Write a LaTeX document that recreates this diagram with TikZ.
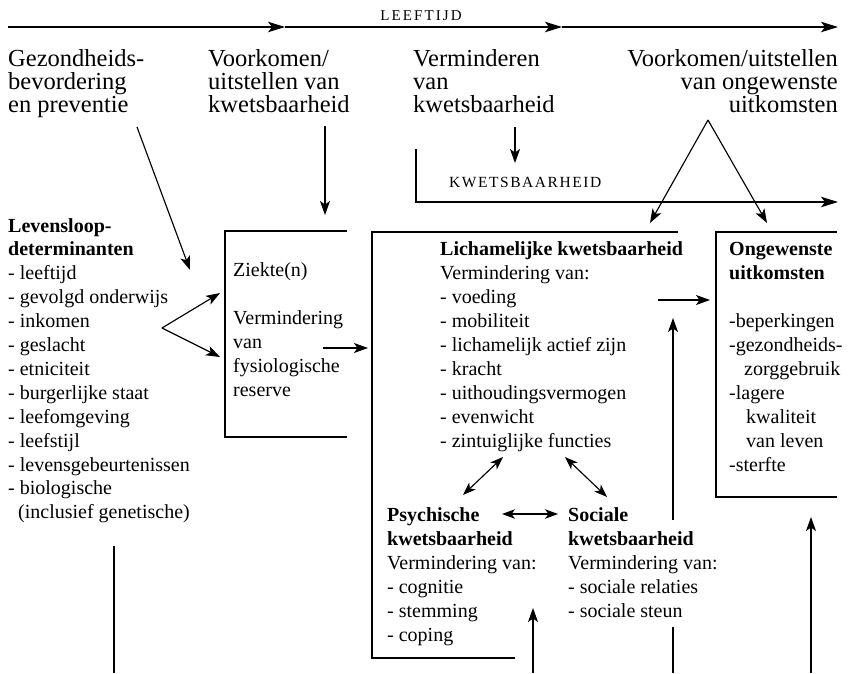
\documentclass[tikz,border=0pt]{standalone}
\usepackage{fontspec}
\setmainfont{Liberation Serif}
\newfontfamily\capsA[LetterSpace=10]{Liberation Serif}
\newfontfamily\capsB[LetterSpace=14]{Liberation Serif}
\usetikzlibrary{arrows.meta}
\newcommand\mlines[1]{\vtop{\lineskiplimit=-100pt\lineskip=0pt\halign{##\hfil\cr#1\crcr}}}
\newcommand\rlines[1]{\vtop{\lineskiplimit=-100pt\lineskip=0pt\halign{\hfil##\cr#1\crcr}}}
\tikzset{
  txt/.style={inner sep=0pt, anchor=base west, font=\fontsize{20}{24}\selectfont},
  toptxt/.style={inner sep=0pt, anchor=base west, font=\fontsize{24.5}{23}\selectfont},
  capstxt/.style={inner sep=0pt, anchor=base west},
  ln/.style={line width=1.15pt},
  arr/.style={line width=1.15pt, -{Stealth[length=14pt,width=10pt,inset=3.5pt]}},
  darr/.style={line width=1.15pt, {Stealth[length=13pt,width=9.5pt,inset=3.5pt]}-{Stealth[length=13pt,width=9.5pt,inset=3.5pt]}},
  bigarr/.style={line width=1.15pt, -{Stealth[length=17pt,width=10.5pt,inset=4pt]}},
}
\begin{document}
\begin{tikzpicture}[x=1pt,y=-1pt]
\useasboundingbox (0,0) rectangle (849,673);

% ---- age axis
\node[capstxt, anchor=base, font=\capsB\fontsize{15}{18}\selectfont] (leeftijd) at (421,20) {LEEFTIJD};
\coordinate (t0) at (8,27);
\coordinate (t1) at (285,27);
\coordinate (t2) at (562,27);
\coordinate (t3) at (838,27);
\draw[bigarr] (t0) -- (t1);
\draw[bigarr] (t1) -- (t2);
\draw[bigarr] (t2) -- (t3);

% ---- top texts
\node[toptxt] (gez) at (8,66) {\mlines{Gezondheids-\cr bevordering\cr en preventie}};
\node[toptxt] (voork) at (208,66) {\mlines{Voorkomen/\cr uitstellen van\cr kwetsbaarheid}};
\node[toptxt] (vermin) at (413,66) {\mlines{Verminderen\cr van\cr kwetsbaarheid}};
\node[toptxt, anchor=base east] (vuo) at (838,66) {\rlines{Voorkomen/uitstellen\cr van ongewenste\cr uitkomsten}};

% ---- kwetsbaarheid axis
\node[capstxt, font=\capsA\fontsize{15.5}{18}\selectfont] (kwets) at (449,187) {KWETSBAARHEID};
\coordinate (k0) at (416,149);
\coordinate (k1) at (416,202);
\coordinate (k2) at (838,202);
\draw[bigarr] (k0) -- (k1) -- (k2);

% ---- boxes (open at the right)
\coordinate (zA) at (347,231); \coordinate (zB) at (225,231);
\coordinate (zC) at (225,437); \coordinate (zD) at (347,437);
\draw[ln] (zA) -- (zB) -- (zC) -- (zD);
\coordinate (lA) at (678,232); \coordinate (lB) at (372,232);
\coordinate (lC) at (372,658); \coordinate (lD) at (515,658);
\draw[ln] (lA) -- (lB) -- (lC) -- (lD);
\coordinate (oA) at (837,232); \coordinate (oB) at (716,232);
\coordinate (oC) at (716,497); \coordinate (oD) at (837,497);
\draw[ln] (oA) -- (oB) -- (oC) -- (oD);

% ---- box texts
\node[txt, font=\fontsize{20}{23.9}\selectfont] (lev) at (8,232) {\mlines{\textbf{Levensloop-}\cr\textbf{determinanten}\cr
- leeftijd\cr - gevolgd onderwijs\cr - inkomen\cr - geslacht\cr - etniciteit\cr - burgerlijke staat\cr
- leefomgeving\cr - leefstijl\cr - levensgebeurtenissen\cr - biologische\cr \hspace*{10pt}(inclusief genetische)}};
\node[txt] (ziek) at (233,276) {\mlines{Ziekte(n)\cr\cr Vermindering\cr van\cr fysiologische\cr reserve}};
\node[txt] (lich) at (440,255) {\mlines{\textbf{Lichamelijke kwetsbaarheid}\cr Vermindering van:\cr - voeding\cr - mobiliteit\cr
- lichamelijk actief zijn\cr - kracht\cr - uithoudingsvermogen\cr - evenwicht\cr - zintuiglijke functies}};
\node[txt] (psych) at (387,521) {\mlines{\textbf{Psychische}\cr\textbf{kwetsbaarheid}\cr Vermindering van:\cr - cognitie\cr - stemming\cr - coping}};
\node[txt] (soc) at (568,521) {\mlines{\textbf{Sociale}\cr\textbf{kwetsbaarheid}\cr Vermindering van:\cr - sociale relaties\cr - sociale steun}};
\node[txt] (ong) at (729,255) {\mlines{\textbf{Ongewenste}\cr\textbf{uitkomsten}\cr\cr -beperkingen\cr -gezondheids-\cr
\hspace*{15pt}zorggebruik\cr -lagere\cr \hspace*{17pt}kwaliteit\cr \hspace*{17pt}van leven\cr -sterfte}};

% ---- arrows from the top texts
\coordinate (g0) at (137,127); \coordinate (g1) at (190,270);
\draw[arr] (g0) -- (g1);
\coordinate (v0) at (325,126); \coordinate (v1) at (325,215);
\draw[arr] (v0) -- (v1);
\coordinate (m0) at (515,127); \coordinate (m1) at (515,163);
\draw[arr] (m0) -- (m1);
\coordinate (apex) at (708,120);
\coordinate (tl) at (650,223); \coordinate (tr) at (767,223);
\draw[arr] (apex) -- (tl);
\draw[arr] (apex) -- (tr);

% ---- arrows between boxes
\coordinate (lv) at (162,328);
\coordinate (lv1) at (220,293); \coordinate (lv2) at (220,357);
\draw[arr] (lv) -- (lv1);
\draw[arr] (lv) -- (lv2);
\coordinate (zo) at (323,348); \coordinate (li) at (368,348);
\draw[arr] (zo) -- (li);
\coordinate (lo) at (658,300); \coordinate (oi) at (710,300);
\draw[arr] (lo) -- (oi);

% ---- double arrows inside the body box
\coordinate (d1a) at (503,457); \coordinate (d1b) at (463,495);
\draw[darr] (d1a) -- (d1b);
\coordinate (d2a) at (565,457); \coordinate (d2b) at (607,497);
\draw[darr] (d2a) -- (d2b);
\coordinate (d3a) at (502,514); \coordinate (d3b) at (558,514);
\draw[darr] (d3a) -- (d3b);

% ---- lines from the bottom
\coordinate (b1a) at (114,673); \coordinate (b1b) at (114,546);
\draw[ln] (b1a) -- (b1b);
\coordinate (b2a) at (533,673); \coordinate (b2b) at (533,608);
\draw[arr] (b2a) -- (b2b);
\coordinate (b3a) at (673,673); \coordinate (b3b) at (673,627);
\draw[ln] (b3a) -- (b3b);
\coordinate (b3c) at (673,520); \coordinate (b3d) at (673,318);
\draw[arr] (b3c) -- (b3d);
\coordinate (b4a) at (811,673); \coordinate (b4b) at (811,517);
\draw[arr] (b4a) -- (b4b);
\end{tikzpicture}
\end{document}
